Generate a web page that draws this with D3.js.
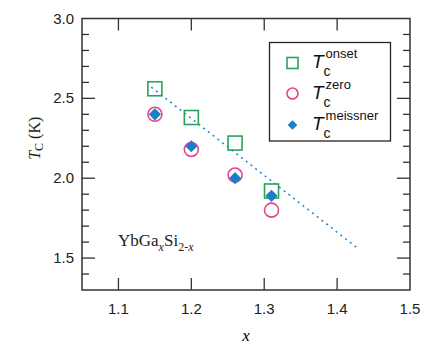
<!DOCTYPE html>
<html>
<head>
<meta charset="utf-8">
<script src="https://cdn.jsdelivr.net/npm/d3@7"></script>
<style>
  body { margin: 0; background: #fff; }
  svg { display: block; }
</style>
</head>
<body>
<div id="chart"></div>
<script>
/* data */
const xs = [1.15, 1.20, 1.26, 1.31];
const onset = [2.56, 2.38, 2.22, 1.92];
const zero = [2.40, 2.18, 2.02, 1.80];
const meissner = [2.40, 2.20, 2.00, 1.89];
const fitLine = [[1.145, 2.57], [1.43, 1.555]];
const xTicks = [1.1, 1.2, 1.3, 1.4, 1.5];
const yTicks = [1.5, 2.0, 2.5, 3.0];

const W = 423, H = 346;
const M = { left: 82, top: 18.5, right: 13, bottom: 56 };
const iw = W - M.left - M.right, ih = H - M.top - M.bottom;

const svg = d3.select("#chart").append("svg")
  .attr("width", W).attr("height", H);

const x = d3.scaleLinear().domain([1.05, 1.5]).range([M.left, M.left + iw]);
const y = d3.scaleLinear().domain([1.3, 3.0]).range([M.top + ih, M.top]);

const axisCol = "#333";
const sans = "'Liberation Sans', Arial, sans-serif";
const serif = "'Liberation Serif', 'Times New Roman', serif";

/* ── ticks (inward, all four sides) ── */
const g = svg.append("g").attr("stroke", axisCol).attr("stroke-width", 1.3);
xTicks.filter(v => v < 1.5).forEach(v => {
  g.append("line").attr("x1", x(v)).attr("x2", x(v))
    .attr("y1", y(1.3)).attr("y2", y(1.3) - 12);
  g.append("line").attr("x1", x(v)).attr("x2", x(v))
    .attr("y1", y(3.0)).attr("y2", y(3.0) + 12);
});
d3.range(14, 30).map(v => v / 10).forEach(v => {
  const major = Math.abs(v * 2 - Math.round(v * 2)) < 1e-6;
  const len = major ? 13 : 7;
  g.append("line").attr("x1", x(1.05)).attr("x2", x(1.05) + len)
    .attr("y1", y(v)).attr("y2", y(v));
  g.append("line").attr("x1", x(1.5)).attr("x2", x(1.5) - len)
    .attr("y1", y(v)).attr("y2", y(v));
});

svg.append("rect")
  .attr("x", x(1.05)).attr("y", y(3.0))
  .attr("width", iw).attr("height", ih)
  .attr("fill", "none").attr("stroke", axisCol).attr("stroke-width", 1.5);

/* ── tick labels ── */
svg.selectAll("text.xt").data(xTicks).enter().append("text")
  .attr("x", d => x(d)).attr("y", y(1.3) + 24)
  .attr("text-anchor", "middle")
  .style("font-family", sans).style("font-size", "15px").attr("fill", "#222")
  .text(d => d.toFixed(1));
svg.selectAll("text.yt").data(yTicks).enter().append("text")
  .attr("x", x(1.05) - 8).attr("y", d => y(d) + 5)
  .attr("text-anchor", "end")
  .style("font-family", sans).style("font-size", "15px").attr("fill", "#222")
  .text(d => d.toFixed(1));

/* ── axis titles ── */
svg.append("text")
  .attr("x", x(1.275)).attr("y", 341)
  .attr("text-anchor", "middle")
  .style("font-family", serif).style("font-size", "17px").style("font-style", "italic")
  .text("x");

const yl = svg.append("text")
  .attr("transform", `translate(40, ${y(2.25)}) rotate(-90)`)
  .attr("text-anchor", "middle")
  .style("font-family", serif).style("font-size", "16px").attr("fill", "#222");
yl.append("tspan").style("font-style", "italic").text("T");
yl.append("tspan").attr("dy", 3).style("font-size", "12px").text("C");
yl.append("tspan").attr("dy", -3).text(" (K)");

/* ── dotted fit line ── */
svg.append("path")
  .datum(fitLine)
  .attr("d", d3.line().x(d => x(d[0])).y(d => y(d[1])))
  .attr("fill", "none").attr("stroke", "#1e8fd2")
  .attr("stroke-width", 1.6).attr("stroke-dasharray", "2,4");

/* ── markers ── */
const green = "#2aa35a", pink = "#e8428c", blue = "#1b7fc6";
svg.selectAll("rect.on").data(xs).enter().append("rect")
  .attr("x", (d, i) => x(d) - 7).attr("y", (d, i) => y(onset[i]) - 7)
  .attr("width", 14).attr("height", 14)
  .attr("fill", "none").attr("stroke", green).attr("stroke-width", 1.6);
svg.selectAll("circle.zero").data(xs).enter().append("circle")
  .attr("cx", d => x(d)).attr("cy", (d, i) => y(zero[i]))
  .attr("r", 7).attr("fill", "none").attr("stroke", pink).attr("stroke-width", 1.6);
const diamond = d3.symbol().type(d3.symbolDiamond2).size(95);
svg.selectAll("path.mei").data(xs).enter().append("path")
  .attr("transform", (d, i) => `translate(${x(d)},${y(meissner[i])})`)
  .attr("d", diamond).attr("fill", blue);

/* ── legend ── */
const lg = svg.append("g");
lg.append("rect").attr("x", 269.5).attr("y", 42.5).attr("width", 121).attr("height", 98.5)
  .attr("fill", "#fff").attr("stroke", "#222").attr("stroke-width", 1.3);
const rows = [
  { sup: "onset", cy: 63, kind: "sq" },
  { sup: "zero", cy: 93.5, kind: "ci" },
  { sup: "meissner", cy: 125, kind: "di" }
];
rows.forEach(r => {
  if (r.kind === "sq") lg.append("rect").attr("x", 287).attr("y", r.cy - 5.5)
    .attr("width", 11).attr("height", 11).attr("fill", "none").attr("stroke", green).attr("stroke-width", 1.6);
  if (r.kind === "ci") lg.append("circle").attr("cx", 292.5).attr("cy", r.cy)
    .attr("r", 5.5).attr("fill", "none").attr("stroke", pink).attr("stroke-width", 1.6);
  if (r.kind === "di") lg.append("path").attr("transform", `translate(292.5,${r.cy})`)
    .attr("d", d3.symbol().type(d3.symbolDiamond2).size(60)).attr("fill", blue);
  const t = lg.append("text").attr("x", 312).attr("y", r.cy + 5)
    .style("font-family", sans).style("font-size", "19px").attr("fill", "#111");
  t.append("tspan").style("font-style", "italic").text("T");
  t.append("tspan").attr("dy", 8).style("font-size", "14px").text("c");
  t.append("tspan").attr("dx", -5).attr("dy", -18).style("font-size", "13px").text(r.sup);
});

/* ── compound annotation ── */
const ann = svg.append("text").attr("x", 118).attr("y", 246)
  .style("font-family", serif).style("font-size", "17px").attr("fill", "#222");
ann.append("tspan").text("YbGa");
ann.append("tspan").attr("dy", 5).style("font-size", "12px").style("font-style", "italic").text("x");
ann.append("tspan").attr("dy", -5).text("Si");
ann.append("tspan").attr("dy", 5).style("font-size", "12px").text("2-");
ann.append("tspan").style("font-size", "12px").style("font-style", "italic").text("x");
</script>
</body>
</html>
